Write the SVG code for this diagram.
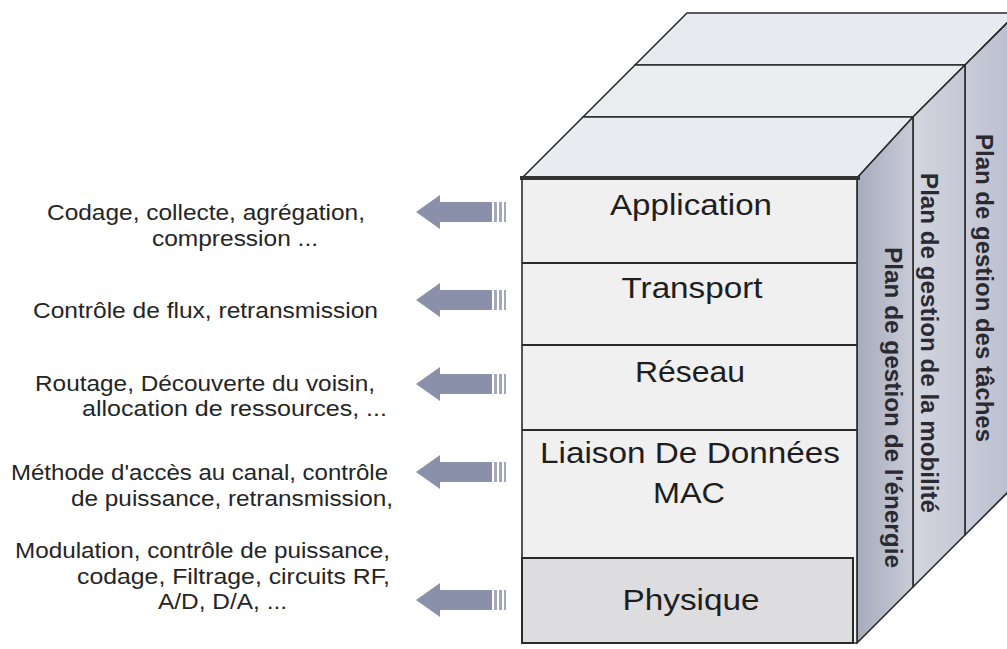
<svg xmlns="http://www.w3.org/2000/svg" width="1007" height="649" viewBox="0 0 1007 649">
<style>
.edge{stroke:#2a2a2a;stroke-width:1.6;stroke-linejoin:round}
.sep{stroke:#2a2a2a;stroke-width:2.2}
.lbl{font-family:"Liberation Sans",Arial,sans-serif;font-size:30px;fill:#1e1e1e;text-anchor:middle}
.side{font-family:"Liberation Sans",Arial,sans-serif;font-size:24px;font-weight:bold;fill:#2a2a30}
.desc{font-family:"Liberation Sans",Arial,sans-serif;font-size:22px;fill:#252525}
.arrow{fill:#8b90aa}
.bar{fill:#a4a8bc}
</style>
<defs>
<linearGradient id="gEn" x1="0" y1="0" x2="1" y2="0">
<stop offset="0" stop-color="#a7abbc"/><stop offset="1" stop-color="#c9cbd7"/>
</linearGradient>
<linearGradient id="gMo" x1="0" y1="0" x2="1" y2="0">
<stop offset="0" stop-color="#d3d5df"/><stop offset="1" stop-color="#c5c8d5"/>
</linearGradient>
<linearGradient id="gTa" x1="0" y1="0" x2="1" y2="0">
<stop offset="0" stop-color="#c9ccd9"/><stop offset="1" stop-color="#b8bccd"/>
</linearGradient>
<g id="arr">
<path class="arrow" d="M0,0 L24,-17 L24,-10 L76,-10 L76,10 L24,10 L24,17 Z"/>
<rect class="bar" x="78" y="-10" width="3" height="20"/>
<rect class="bar" x="83" y="-10" width="3" height="20"/>
<rect class="bar" x="88" y="-10" width="2" height="20"/>
</g>
</defs>
<rect width="1007" height="649" fill="#ffffff"/>

<g id="cube-top">
<polygon class="edge" fill="#e9eaef" points="635,65 965,65 1017,13 687,13"/>
<polygon class="edge" fill="#ecedf1" points="583,117 913,117 965,65 635,65"/>
<polygon class="edge" fill="#eaebf0" points="522,178 857,178 913,117 583,117"/>
</g>

<g id="plan-taches">
<polygon class="edge" fill="url(#gTa)" points="965,65 1017,13 1017,483 965,535"/>
<text class="side" transform="translate(976,134) rotate(90)" textLength="308" lengthAdjust="spacingAndGlyphs">Plan de gestion des tâches</text>
</g>
<g id="plan-mobilite">
<polygon class="edge" fill="url(#gMo)" points="913,117 965,65 965,535 913,587"/>
<text class="side" transform="translate(921,173) rotate(90)" textLength="340" lengthAdjust="spacingAndGlyphs">Plan de gestion de la mobilité</text>
</g>
<g id="plan-energie">
<polygon class="edge" fill="url(#gEn)" points="857,178 913,117 913,587 857,643"/>
<text class="side" transform="translate(885,247) rotate(90)" textLength="321" lengthAdjust="spacingAndGlyphs">Plan de gestion de l'énergie</text>
</g>

<g id="front">
<rect x="522" y="178" width="335" height="465" fill="#f0f0f1" class="edge"/>
</g>

<g id="application">
<text class="lbl" x="691" y="215" textLength="162" lengthAdjust="spacingAndGlyphs">Application</text>
</g>
<g id="transport">
<line class="sep" x1="522" y1="263" x2="857" y2="263"/>
<text class="lbl" x="692" y="298" textLength="141" lengthAdjust="spacingAndGlyphs">Transport</text>
</g>
<g id="reseau">
<line class="sep" x1="522" y1="345" x2="857" y2="345"/>
<text class="lbl" x="690" y="382" textLength="110" lengthAdjust="spacingAndGlyphs">Réseau</text>
</g>
<g id="liaison">
<line class="sep" x1="522" y1="430" x2="857" y2="430"/>
<text class="lbl" x="690" y="463" textLength="300" lengthAdjust="spacingAndGlyphs">Liaison De Données</text>
<text class="lbl" x="689" y="503" textLength="72" lengthAdjust="spacingAndGlyphs">MAC</text>
</g>
<g id="physique">
<rect x="522" y="558" width="331" height="85" fill="#dddde0" stroke="#2a2a2a" stroke-width="2"/>
<text class="lbl" x="691" y="610" textLength="137" lengthAdjust="spacingAndGlyphs">Physique</text>
</g>
<line x1="520" y1="178" x2="860" y2="178" stroke="#333" stroke-width="4"/>

<g id="connectors">
<use href="#arr" transform="translate(416,212)"/>
<use href="#arr" transform="translate(416,300)"/>
<use href="#arr" transform="translate(416,384)"/>
<use href="#arr" transform="translate(416,472)"/>
<use href="#arr" transform="translate(416,600)"/>
</g>

<g id="desc-application">
<text class="desc" x="47" y="220" textLength="318" lengthAdjust="spacingAndGlyphs">Codage, collecte, agrégation,</text>
<text class="desc" x="152" y="246" textLength="166" lengthAdjust="spacingAndGlyphs">compression ...</text>
</g>
<g id="desc-transport">
<text class="desc" x="33" y="318" textLength="345" lengthAdjust="spacingAndGlyphs">Contrôle de flux, retransmission</text>
</g>
<g id="desc-reseau">
<text class="desc" x="35" y="391" textLength="340" lengthAdjust="spacingAndGlyphs">Routage, Découverte du voisin,</text>
<text class="desc" x="82" y="416" textLength="305" lengthAdjust="spacingAndGlyphs">allocation de ressources, ...</text>
</g>
<g id="desc-liaison">
<text class="desc" x="11" y="480" textLength="377" lengthAdjust="spacingAndGlyphs">Méthode d'accès au canal, contrôle</text>
<text class="desc" x="71" y="506" textLength="322" lengthAdjust="spacingAndGlyphs">de puissance, retransmission,</text>
</g>
<g id="desc-physique">
<text class="desc" x="15" y="558" textLength="375" lengthAdjust="spacingAndGlyphs">Modulation, contrôle de puissance,</text>
<text class="desc" x="77" y="584" textLength="313" lengthAdjust="spacingAndGlyphs">codage, Filtrage, circuits RF,</text>
<text class="desc" x="158" y="609" textLength="129" lengthAdjust="spacingAndGlyphs">A/D, D/A, ...</text>
</g>
</svg>
